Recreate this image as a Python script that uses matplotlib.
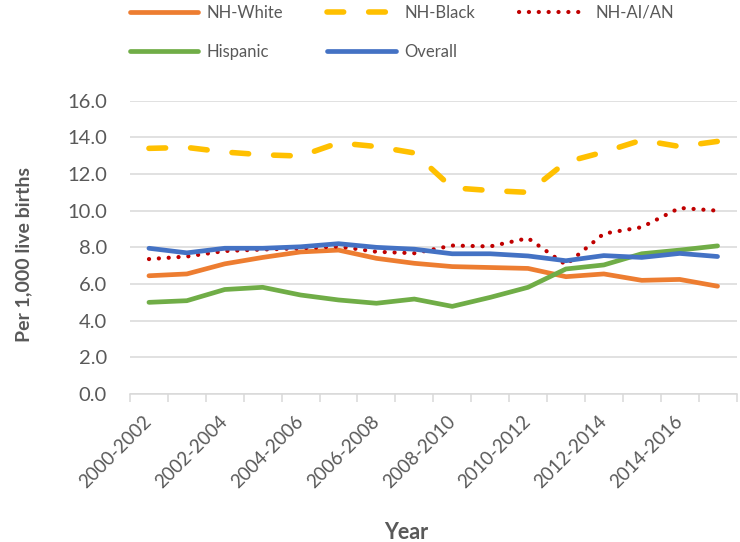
import matplotlib
matplotlib.use("Agg")
import matplotlib.pyplot as plt

plt.rcParams['font.family'] = ['Lato', 'DejaVu Sans']
plt.rcParams['lines.scale_dashes'] = False

periods = ["2000-2002", "2001-2003", "2002-2004", "2003-2005", "2004-2006",
           "2005-2007", "2006-2008", "2007-2009", "2008-2010", "2009-2011",
           "2010-2012", "2011-2013", "2012-2014", "2013-2015", "2014-2016",
           "2015-2017"]

nh_white = [6.45, 6.55, 7.1, 7.45, 7.75, 7.85, 7.4, 7.13, 6.95, 6.9,
            6.85, 6.4, 6.55, 6.2, 6.25, 5.88]
nh_black = [13.4, 13.45, 13.2, 13.05, 12.98, 13.7, 13.5, 13.15, 11.25, 11.1,
            11.0, 12.65, 13.2, 13.85, 13.5, 13.78]
nh_aian = [7.36, 7.5, 7.8, 7.88, 7.95, 8.05, 7.76, 7.68, 8.1, 8.05,
           8.5, 7.05, 8.75, 9.1, 10.15, 10.0]
hispanic = [5.0, 5.09, 5.7, 5.82, 5.4, 5.13, 4.95, 5.18, 4.78, 5.27,
            5.82, 6.82, 7.04, 7.65, 7.85, 8.08]
overall = [7.95, 7.7, 7.95, 7.95, 8.03, 8.2, 8.0, 7.9, 7.65, 7.65,
           7.53, 7.27, 7.55, 7.45, 7.67, 7.5]

TXT = "#595959"
GRID = "#D9D9D9"

fig = plt.figure(figsize=(7.4, 5.42), dpi=100)
# plot area in pixels: x 130..736.5, y 100.7..394
ax = fig.add_axes([130 / 740, 1 - 394 / 542, (736.5 - 130) / 740, (394 - 100.7) / 542])

x = list(range(len(periods)))
lw = 3.4
l_white, = ax.plot(x, nh_white, color="#ED7D31", lw=lw, solid_capstyle="round",
                   solid_joinstyle="round", label="NH-White")
l_black, = ax.plot(x, nh_black, color="#FFC000", lw=4.0, dashes=(12, 18),
                   dash_capstyle="round", dash_joinstyle="round", label="NH-Black")
l_aian, = ax.plot(x, nh_aian, color="#C00000", lw=3.0, dashes=(0.1, 7.0),
                  dash_capstyle="round", label="NH-AI/AN")
l_hisp, = ax.plot(x, hispanic, color="#70AD47", lw=lw, solid_capstyle="round",
                  solid_joinstyle="round", label="Hispanic")
l_all, = ax.plot(x, overall, color="#4472C4", lw=lw, solid_capstyle="round",
                 solid_joinstyle="round", label="Overall")

ax.set_xlim(-0.5, len(periods) - 0.5)
ax.set_ylim(0, 16)
ax.set_yticks([0, 2, 4, 6, 8, 10, 12, 14, 16])
ax.set_yticklabels([f"{v:.1f}" for v in ax.get_yticks()])
ax.yaxis.grid(True, color=GRID, lw=1.1)
ax.set_axisbelow(True)
ax.tick_params(axis="y", length=0, pad=16.5, labelsize=14.5, labelcolor=TXT)

ax.set_xticks(x[::2])
ax.set_xticklabels(periods[::2], rotation=45, ha="right", va="center",
                   rotation_mode="anchor")
ax.set_xticks([i - 0.5 for i in range(len(periods) + 1)], minor=True)
ax.tick_params(axis="x", which="major", length=0, pad=17.5, labelsize=13.5,
               labelcolor=TXT)
ax.tick_params(axis="x", which="minor", length=6, width=1.1, color=GRID)

for s in ["top", "right", "left"]:
    ax.spines[s].set_visible(False)
ax.spines["bottom"].set_color(GRID)
ax.spines["bottom"].set_linewidth(1.1)

fig.text(24 / 740, 1 - 254 / 542, "Per 1,000 live births", rotation=90,
         ha="center", va="center", fontsize=14, fontweight="bold", color=TXT)
fig.text(406 / 740, 1 - 539 / 542, "Year", ha="center", va="baseline",
         fontsize=15.5, fontweight="bold", color=TXT)

handles = [l_white, l_hisp, l_black, l_all, l_aian]
fig.legend(handles, [h.get_label() for h in handles], ncol=3,
           loc="upper left", bbox_to_anchor=(130 / 740, 1 - 5 / 542),
           frameon=False, fontsize=12, handlelength=4.1, handletextpad=0.5,
           columnspacing=2.65, labelspacing=1.38, borderpad=0, borderaxespad=0,
           labelcolor=TXT)

fig.savefig("out.png", dpi=100)
